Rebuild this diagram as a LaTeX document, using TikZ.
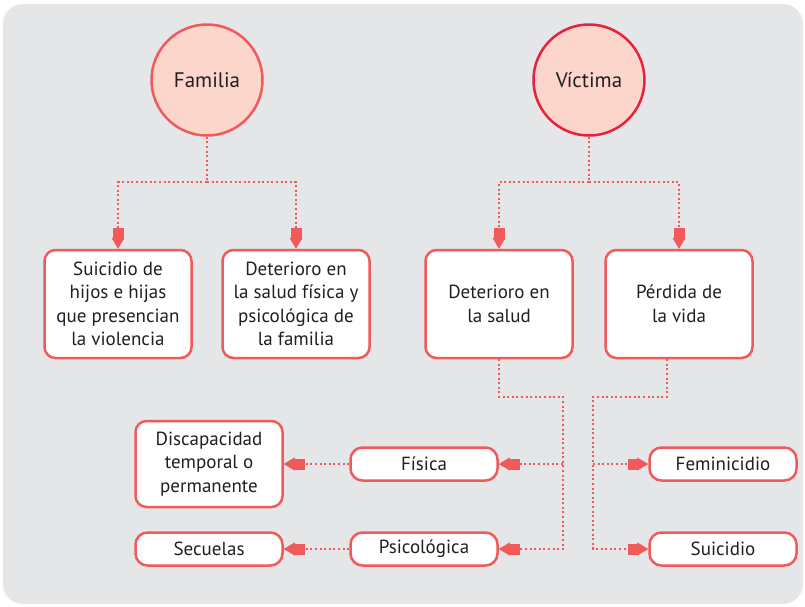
\documentclass[tikz,border=0pt]{standalone}
\usepackage{fontspec}
\setmainfont{PT Sans}
\usetikzlibrary{arrows.meta, positioning}

\definecolor{bggray}{HTML}{E5E6E8}
\definecolor{salmon}{HTML}{F15A5B}
\definecolor{crimson}{HTML}{E8213F}
\definecolor{pinkfill}{HTML}{FCD6CB}
\definecolor{ink}{HTML}{231F20}

\begin{document}
\begin{tikzpicture}[x=1pt,y=-1pt]
	\tikzstyle{circ} = [draw=salmon,fill=pinkfill,circle,line width=2.5pt,minimum size=111pt,font=\fontsize{21}{25}\selectfont,text=ink]
	\tikzstyle{bigbox} = [draw=salmon,fill=white,rectangle,rounded corners=11pt,line width=2.5pt,minimum width=147pt,minimum height=108pt,align=center,font=\fontsize{19}{23.5}\selectfont,text=ink]
	\tikzstyle{smallbox} = [bigbox,minimum height=33pt,rounded corners=12pt]
	\tikzstyle{dots} = [salmon,line width=2pt,dash pattern=on 2pt off 2.6pt]
	\tikzstyle{dotarrow} = [dots,-{Rectangle[length=11pt,width=10pt,fill=salmon,line width=0.5pt,sep=-1.5pt]Triangle[length=11pt,width=13pt,fill=salmon,line width=0.5pt]}]
	\useasboundingbox (0,0) rectangle (805,606);
	\fill[bggray,rounded corners=20pt] (3,4) rectangle (803,604);
	\node (familia) [circ] at (207,80) {Familia};
	\node (victima) [circ,draw=crimson] at (589,80) {Víctima};
	\node (suicidioh) [bigbox] at (118,304) {Suicidio de\\hijos e hijas\\que presencian\\la violencia};
	\node (detfamilia) [bigbox] at (296,304) {Deterioro en\\la salud física y\\psicológica de\\la familia};
	\node (detsalud) [bigbox] at (499,304) {Deterioro en\\la salud};
	\node (perdida) [bigbox] at (679,304) {Pérdida de\\la vida};
	\node (fisica) [smallbox] at (424,464) {Física};
	\node (psico) [smallbox] at (424,549) {Psicológica};
	\node (discap) [bigbox,minimum height=86pt] at (209,464) {Discapacidad\\temporal o\\permanente};
	\node (secuelas) [smallbox] at (209,549) {Secuelas};
	\node (feminicidio) [smallbox] at (723,464) {Feminicidio};
	\node (suicidio) [smallbox] at (723,549) {Suicidio};
	% familia
	\coordinate (famsplit) at (207,182);
	\draw[dots] (familia) -- (famsplit);
	\draw[dotarrow] (famsplit) -| (suicidioh);
	\draw[dotarrow] (famsplit) -| (detfamilia);
	% victima
	\coordinate (vicsplit) at (589,182);
	\draw[dots] (victima) -- (vicsplit);
	\draw[dotarrow] (vicsplit) -| (detsalud);
	\draw[dotarrow] (vicsplit) -| (perdida);
	% deterioro en la salud
	\coordinate (saludbend) at (563,397);
	\draw[dotarrow] (detsalud.south) |- (saludbend) |- (psico.east);
	\draw[dotarrow] (saludbend |- fisica.east) -- (fisica.east);
	\draw[dotarrow] (fisica) -- (discap);
	\draw[dotarrow] (psico) -- (secuelas);
	% perdida de la vida
	\coordinate (vidabend) at (593,397);
	\draw[dotarrow] ([xshift=-12pt]perdida.south) |- (vidabend) |- (suicidio.west);
	\draw[dotarrow] (vidabend |- feminicidio.west) -- (feminicidio.west);
\end{tikzpicture}
\end{document}
